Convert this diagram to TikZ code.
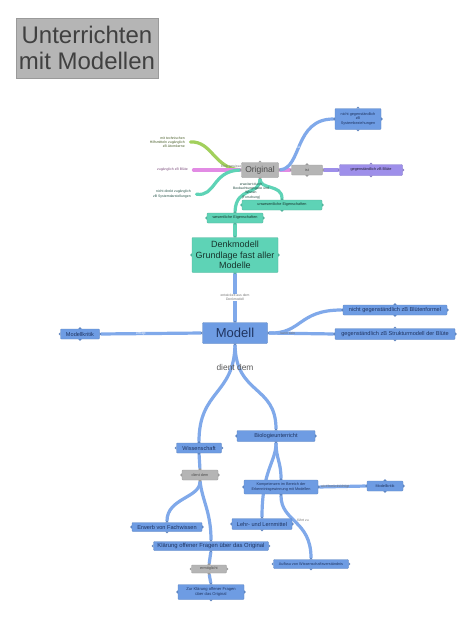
\documentclass[tikz,border=0pt]{standalone}
\usepackage{fontspec}
\setmainfont{Liberation Sans}
\usetikzlibrary{positioning,backgrounds}
\definecolor{mblue}{HTML}{6E9CE3}
\definecolor{mline}{HTML}{80A9EA}
\definecolor{mtext}{HTML}{1F3461}
\definecolor{mteal}{HTML}{5ED3B6}
\definecolor{mgreen}{HTML}{A2D05C}
\definecolor{mpink}{HTML}{E28BE4}
\definecolor{mpurple}{HTML}{9E8FEA}
\definecolor{mgray}{HTML}{B5B5B5}
\newcommand{\fs}[1]{\fontsize{#1}{1.2\dimexpr#1pt\relax}\selectfont}
\begin{document}
\begin{tikzpicture}[x=1pt, y=-1pt,
    box/.style={draw=mblue!85!black, line width=0.3pt, fill=mblue, text=mtext,
      align=center, inner sep=1pt, rounded corners=0.8pt, font=\fs{5.6}},
    smallbox/.style={box, font=\fs{3.8}},
    greybox/.style={smallbox, draw=mgray!85!black, fill=mgray, text=black!70},
    tealbox/.style={smallbox, draw=mteal!85!black, fill=mteal, text=mteal!25!black},
    purplebox/.style={smallbox, draw=mpurple!85!black, fill=mpurple, text=mpurple!20!black},
    link/.style={line width=3.2pt, mline, line cap=round, shorten <=1.5pt, shorten >=1.5pt},
    lab/.style={font=\fs{3.4}, text=black!55, align=center, inner sep=0pt},
    note/.style={font=\fs{3.5}, align=right, inner sep=0pt}]
  \useasboundingbox (0,0) rectangle (474,619);

  % title
  \node[greybox, rounded corners=0pt, minimum width=142pt, minimum height=60pt,
    font=\fontsize{24}{26}\selectfont, text=black!75] (title) at (87,48) {Unterrichten\\mit Modellen};

  % original and its branches
  \node[greybox, minimum width=37pt, minimum height=15pt, font=\fs{8.5}] (orig) at (260,170) {Original};
  \node[greybox, minimum width=31pt, minimum height=10pt] (ist) at (307,170) {ist};
  \node[purplebox, minimum width=63pt, minimum height=11pt] (gegen) at (371,170) {gegenständlich zB Blüte};
  \node[smallbox, minimum width=46pt, minimum height=21pt] (nichtgeg) at (358,119)
    {nicht gegenständlich\\zB\\Systembeziehungen};
  \node[note, text=mgreen!45!black, anchor=east] (txtA) at (185,142)
    {mit technischen\\Hilfsmitteln zugänglich\\zB Atomkerne};
  \node[note, text=mpink!55!black, anchor=east] (txtB) at (188,170) {zugänglich zB Blüte};
  \node[note, text=mteal!40!black, anchor=east] (txtC) at (191,194)
    {nicht direkt zugänglich\\zB Systemdarstellungen};
  \node[tealbox, minimum width=80pt, minimum height=10pt] (unwes) at (282,205) {unwesentliche Eigenschaften};
  \node[tealbox, minimum width=56pt, minimum height=10pt] (wes) at (235,218) {wesentliche Eigenschaften};

  % models
  \node[tealbox, minimum width=86pt, minimum height=35pt, font=\fontsize{9}{10.5}\selectfont,
    text=mteal!25!black] (denk) at (235,255) {Denkmodell\\Grundlage fast aller\\Modelle};
  \node[box, minimum width=65pt, minimum height=21pt, font=\fs{13}] (modell) at (235,333) {Modell};
  \node[box, minimum width=39pt, minimum height=10pt] (kritikA) at (80,334) {Modellkritik};
  \node[box, minimum width=104pt, minimum height=10pt] (bluet) at (395,310) {nicht gegenständlich zB Blütenformel};
  \node[box, minimum width=120pt, minimum height=11pt] (struk) at (395,334) {gegenständlich zB Strukturmodell der Blüte};
  \node[font=\fs{8.4}, text=black!65] (dient) at (235,367) {dient dem};

  % purposes
  \node[box, minimum width=45pt, minimum height=10pt] (wiss) at (199,448) {Wissenschaft};
  \node[box, minimum width=78pt, minimum height=11pt] (bio) at (276,436) {Biologieunterricht};
  \node[greybox, minimum width=36pt, minimum height=10pt] (dientbox) at (200,475) {dient dem};
  \node[box, minimum width=70pt, minimum height=9pt] (erwerb) at (167,527) {Erwerb von Fachwissen};
  \node[box, minimum width=115pt, minimum height=9pt, font=\fs{5.9}] (klaer) at (211,546)
    {Klärung offener Fragen über das Original};
  \node[smallbox, minimum width=74pt, minimum height=14pt] (komp) at (281,487)
    {Kompetenzen im Bereich der\\Erkenntnisgewinnung mit Modellen};
  \node[smallbox, minimum width=36pt, minimum height=10pt] (kritikB) at (385,486) {Modellkritik};
  \node[box, minimum width=60pt, minimum height=11pt] (lehr) at (262,524) {Lehr- und Lernmittel};
  \node[smallbox, minimum width=75pt, minimum height=9pt] (aufbau) at (311,564) {Aufbau von Wissenschaftsverständnis};
  \node[greybox, minimum width=35pt, minimum height=8pt] (ermoegl) at (209,569) {ermöglicht};
  \node[smallbox, minimum width=66pt, minimum height=15pt, font=\fs{4.1}] (zur) at (211,592)
    {Zur Klärung offener Fragen\\über das Original};

  % connectors
  \begin{scope}[on background layer]
    \fill[white] (0,0) rectangle (474,619);
    \draw[link, mgreen] ([xshift=4pt]txtA.east) .. controls (212,141) and (214,168) .. (orig.west);
    \draw[link, mpink] ([xshift=4pt]txtB.east) -- (orig.west);
    \draw[link, mpink] (orig.east) -- (ist.west);
    \draw[link, mteal] ([xshift=4pt]txtC.east) .. controls (216,197) and (212,171) .. (orig.west);
    \draw[link] (orig.east) .. controls (302,168) and (294,119) .. (nichtgeg.west)
      node[lab, pos=0.45, text=white] {ist};
    \draw[link, mpurple] (ist.east) -- (gegen.west);
    \draw[link, mteal] (orig.south) .. controls (260,190) and (282,184) .. (unwes.north);
    \draw[link, mteal] (orig.south) .. controls (260,196) and (236,186) .. (wes.north);
    \draw[link, mteal] (wes.south) -- (denk.north);
    \draw[link] (denk.south) -- (modell.north)
      node[lab, midway, fill=white, inner sep=0.5pt] {entwickelt aus dem\\Denkmodell};
    \draw[link] (modell.west) -- (kritikA.east) node[lab, pos=0.6, text=white] {erfolgt};
    \draw[link] (modell.east) .. controls (302,334) and (298,310) .. (bluet.west);
    \draw[link] (modell.east) -- (struk.west) node[lab, pos=0.3] {kann sein};
    \draw[link] (modell.south) .. controls (234,395) and (199,390) .. (wiss.north);
    \draw[link] (modell.south) .. controls (236,395) and (276,385) .. (bio.north);
    \draw[link] (wiss.south) -- (dientbox.north);
    \draw[link] (dientbox.south) .. controls (200,498) and (167,498) .. (erwerb.north);
    \draw[link] (dientbox.south) .. controls (202,500) and (211,512) .. (klaer.north);
    \draw[link] (bio.south) .. controls (276,462) and (262,470) .. (lehr.north);
    \draw[link] (bio.south) .. controls (276,458) and (281,462) .. (komp.north);
    \draw[link] (komp.south) .. controls (281,522) and (311,520) .. (aufbau.north)
      node[lab, pos=0.45, right=2pt] {führt zu};
    \draw[link] (komp.east) -- (kritikB.west) node[lab, pos=0.35] {wird berücksichtigt};
    \draw[link] (klaer.south) -- (ermoegl.north);
    \draw[link] (ermoegl.south) -- (zur.north);
    \node[lab, anchor=west] (gewlab) at (221,167) {Eine gewisse};
    \node[lab, text=mteal!35!black] (erwlab) at (251,191)
      {erweitert durch\\Beobachtungsgabe und\\Wissen\\(Forschung)};
  \end{scope}

  % small notches on the boxes
  \foreach \n/\c in {orig/mgray, ist/mgray, dientbox/mgray, ermoegl/mgray, gegen/mpurple,
      unwes/mteal, wes/mteal, denk/mteal, nichtgeg/mblue, modell/mblue, kritikA/mblue,
      bluet/mblue, struk/mblue, wiss/mblue, bio/mblue, erwerb/mblue, klaer/mblue,
      komp/mblue, kritikB/mblue, lehr/mblue, aufbau/mblue, zur/mblue}
    \foreach \a/\r in {north/90, south/-90, east/0, west/180}
      \fill[\c!85!black, shift={(\n.\a)}, rotate=\r] (0,-1.6) -- (1.8,0) -- (0,1.6) -- cycle;
\end{tikzpicture}
\end{document}
